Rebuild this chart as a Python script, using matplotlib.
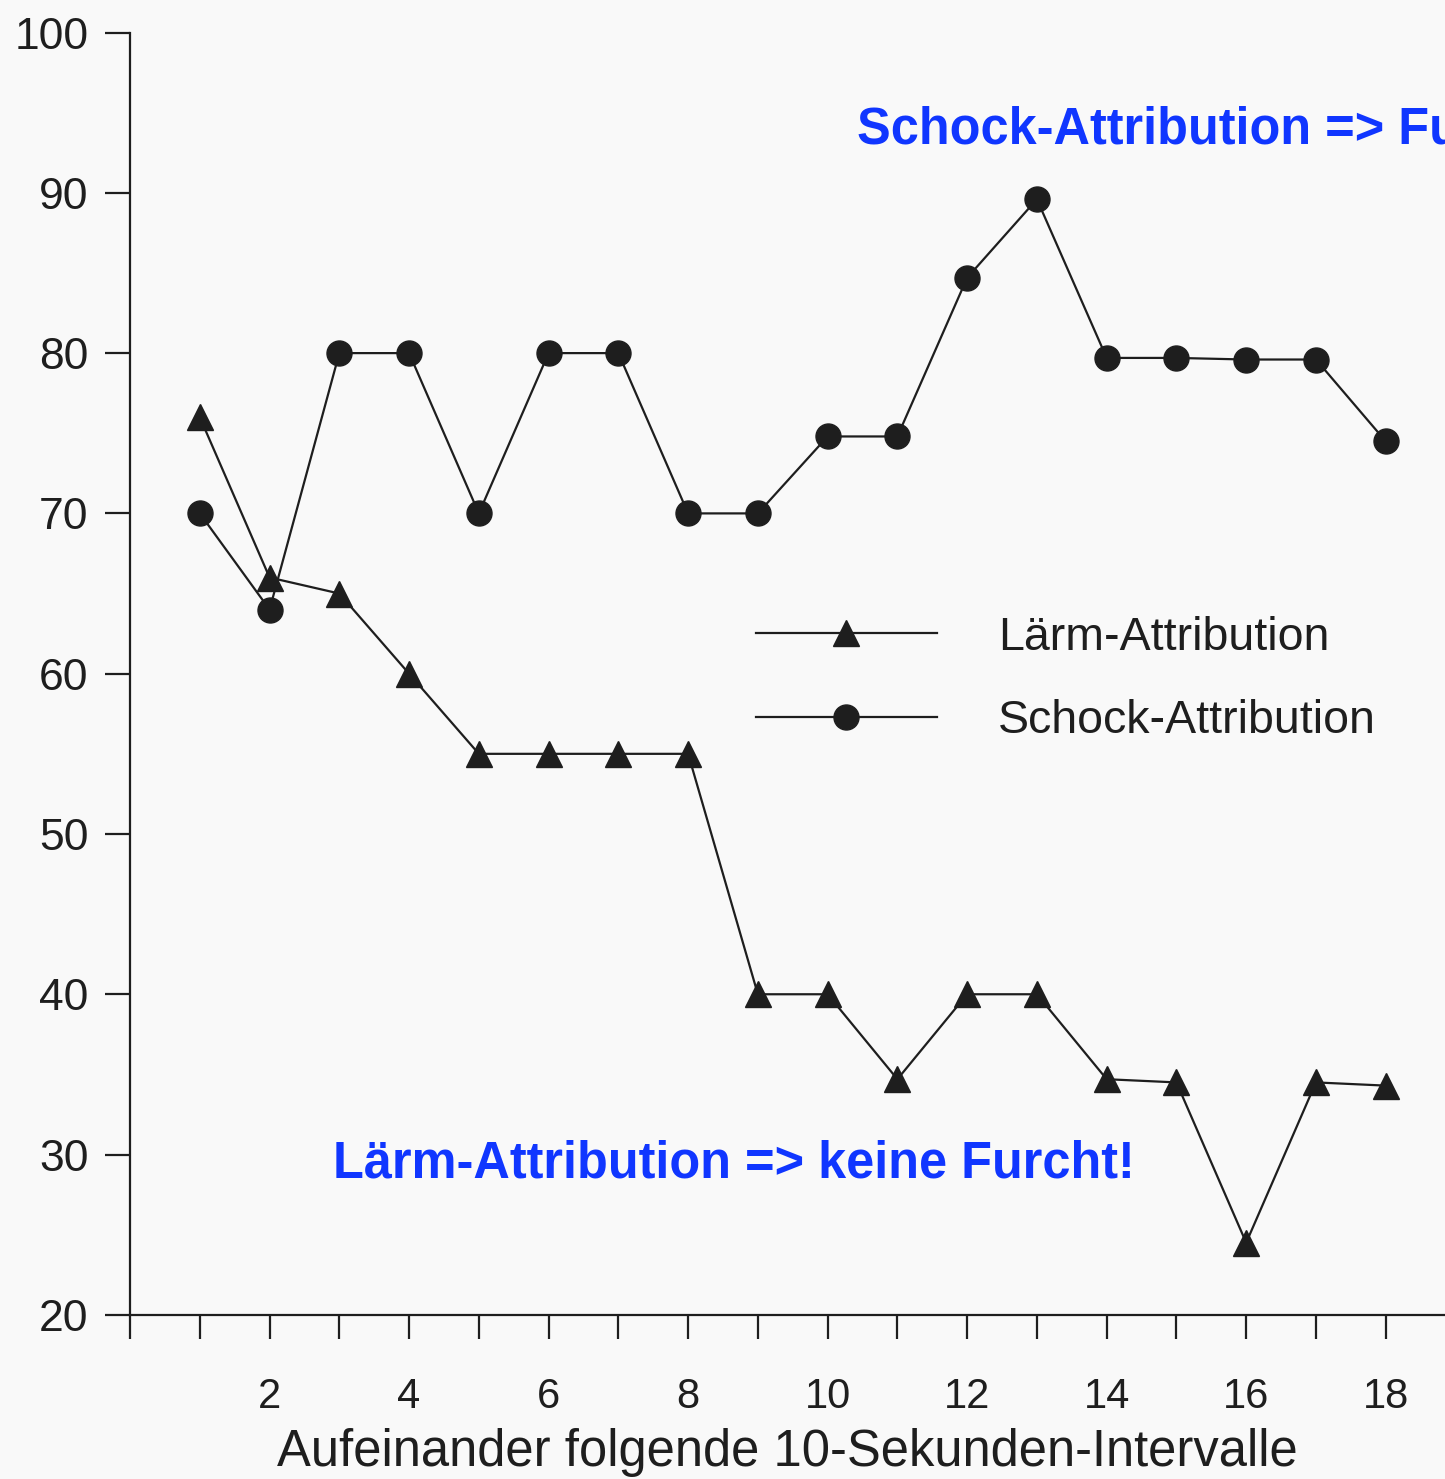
import matplotlib
matplotlib.use("Agg")
import matplotlib.pyplot as plt

# Values
intervals = list(range(1, 19))
laerm = [76, 66, 65, 60, 55, 55, 55, 55, 40, 40, 34.7, 40, 40, 34.7, 34.5, 24.5, 34.5, 34.3]
schock = [70, 64, 80, 80, 70, 80, 80, 70, 70, 74.8, 74.8, 84.7, 89.6, 79.7, 79.7, 79.6, 79.6, 74.5]

y_ticks = [20, 30, 40, 50, 60, 70, 80, 90, 100]
x_ticks = list(range(0, 19))
x_labels = [str(i) if i % 2 == 0 and i > 0 else "" for i in x_ticks]

plt.rcParams["font.family"] = ["Liberation Sans", "DejaVu Sans"]
INK = "#1e1e1e"
BLUE = "#1036ff"

fig = plt.figure(figsize=(14.45, 14.79), dpi=100, facecolor="#f9f9f9")
ax = fig.add_axes([0.09, 0.111, 0.91, 0.867])
ax.set_facecolor("#f9f9f9")

ax.plot(intervals, laerm, "-^", color=INK, lw=1.6, ms=19, label="Lärm-Attribution")
ax.plot(intervals, schock, "-o", color=INK, lw=1.6, ms=18, label="Schock-Attribution")

ax.set_xlim(0, 18.85)
ax.set_ylim(20, 100)
ax.set_yticks(y_ticks)
ax.set_xticks(x_ticks)
ax.set_xticklabels(x_labels)

for side in ("top", "right"):
    ax.spines[side].set_visible(False)
for side in ("left", "bottom"):
    ax.spines[side].set_color(INK)
    ax.spines[side].set_linewidth(1.6)

ax.tick_params(axis="y", direction="out", length=18, width=1.6, pad=12,
               labelsize=32, colors=INK)
ax.tick_params(axis="x", direction="out", length=17, width=1.6, pad=28,
               labelsize=30, colors=INK)

ax.set_xlabel("Aufeinander folgende 10-Sekunden-Intervalle", fontsize=36.5,
              color=INK, labelpad=8)

leg = ax.legend(loc="upper left", bbox_to_anchor=(0.444, 0.578), frameon=False,
                fontsize=33.5, handlelength=3.9, handletextpad=1.3,
                labelspacing=0.85, labelcolor=INK, numpoints=1)

ax.text(10.42, 93.9, "Schock-Attribution => Furcht!", color=BLUE, fontsize=36.4,
        fontweight="bold", va="center", ha="left", clip_on=False)
ax.text(2.91, 29.4, "Lärm-Attribution => keine Furcht!", color=BLUE, fontsize=36.4,
        fontweight="bold", va="center", ha="left", clip_on=False)

fig.savefig("out.png", dpi=100, facecolor=fig.get_facecolor())
